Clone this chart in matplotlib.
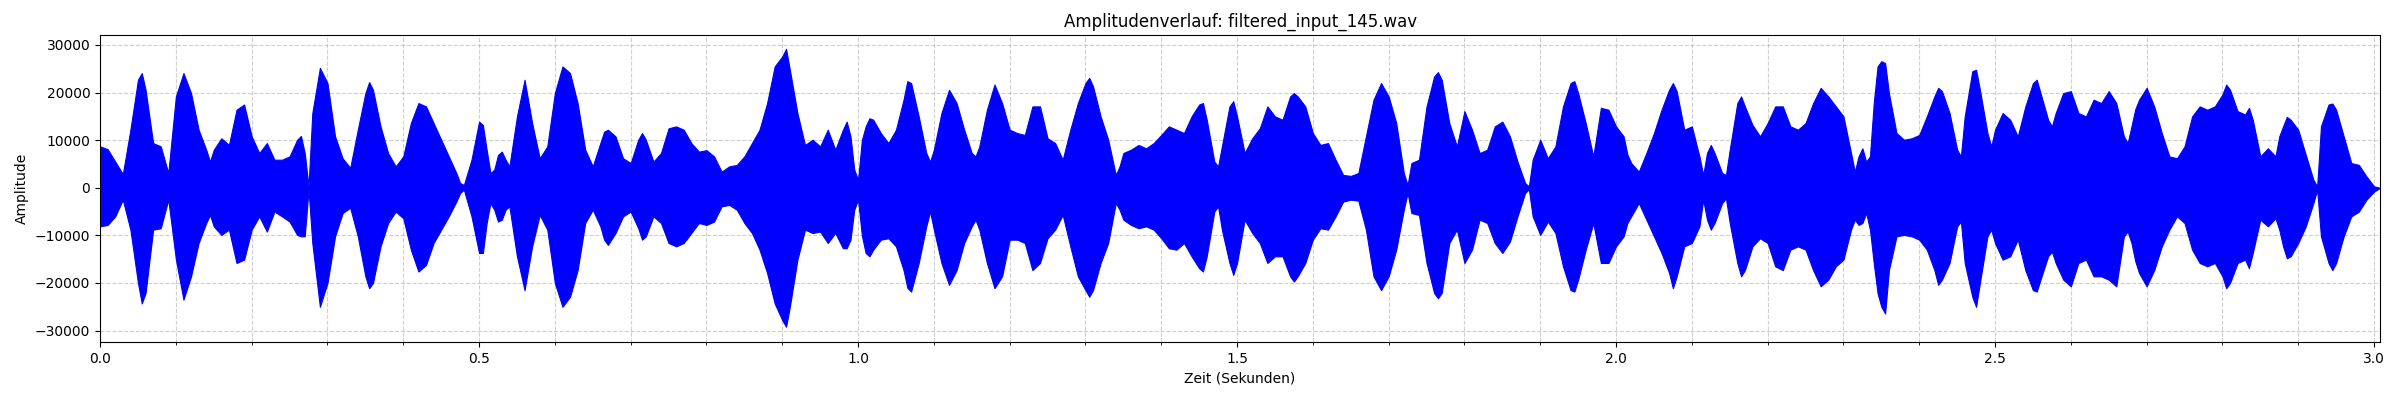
import matplotlib
matplotlib.use('Agg')
import matplotlib.pyplot as plt
from matplotlib.ticker import MultipleLocator

# Hüllkurve der Wellenform (Sekunden / Amplitude)
zeit = [
    0.000, 0.010, 0.020, 0.030, 0.040, 0.050, 0.055, 0.060, 0.070, 0.080,
    0.090, 0.100, 0.110, 0.120, 0.130, 0.140, 0.145, 0.150, 0.160, 0.170,
    0.180, 0.190, 0.200, 0.210, 0.220, 0.230, 0.240, 0.250, 0.260, 0.265,
    0.270, 0.275, 0.280, 0.290, 0.300, 0.310, 0.320, 0.330, 0.340, 0.350,
    0.355, 0.360, 0.370, 0.380, 0.390, 0.400, 0.410, 0.420, 0.430, 0.440,
    0.450, 0.460, 0.470, 0.475, 0.480, 0.490, 0.500, 0.505, 0.510, 0.515,
    0.520, 0.525, 0.530, 0.535, 0.540, 0.550, 0.560, 0.570, 0.580, 0.590,
    0.600, 0.610, 0.620, 0.630, 0.640, 0.650, 0.660, 0.665, 0.670, 0.680,
    0.690, 0.700, 0.710, 0.715, 0.720, 0.730, 0.740, 0.750, 0.760, 0.770,
    0.780, 0.790, 0.800, 0.810, 0.820, 0.830, 0.840, 0.850, 0.860, 0.870,
    0.880, 0.890, 0.900, 0.905, 0.910, 0.920, 0.930, 0.940, 0.950, 0.960,
    0.970, 0.980, 0.985, 0.990, 0.995, 1.000, 1.005, 1.010, 1.015, 1.020,
    1.030, 1.040, 1.050, 1.060, 1.065, 1.070, 1.080, 1.090, 1.095, 1.100,
    1.110, 1.120, 1.130, 1.140, 1.150, 1.155, 1.160, 1.170, 1.180, 1.190,
    1.200, 1.210, 1.220, 1.230, 1.240, 1.250, 1.260, 1.270, 1.280, 1.290,
    1.300, 1.305, 1.310, 1.320, 1.330, 1.340, 1.345, 1.350, 1.360, 1.370,
    1.380, 1.390, 1.400, 1.410, 1.420, 1.430, 1.440, 1.450, 1.455, 1.460,
    1.470, 1.475, 1.480, 1.490, 1.495, 1.500, 1.510, 1.520, 1.530, 1.540,
    1.550, 1.560, 1.570, 1.575, 1.580, 1.590, 1.600, 1.610, 1.620, 1.630,
    1.640, 1.650, 1.660, 1.670, 1.680, 1.690, 1.700, 1.710, 1.720, 1.725,
    1.730, 1.740, 1.750, 1.760, 1.765, 1.770, 1.780, 1.790, 1.800, 1.810,
    1.820, 1.830, 1.840, 1.850, 1.860, 1.870, 1.880, 1.885, 1.890, 1.900,
    1.910, 1.920, 1.930, 1.940, 1.945, 1.950, 1.960, 1.970, 1.980, 1.990,
    2.000, 2.010, 2.015, 2.020, 2.030, 2.040, 2.050, 2.060, 2.070, 2.075,
    2.080, 2.090, 2.100, 2.110, 2.115, 2.120, 2.125, 2.130, 2.140, 2.145,
    2.150, 2.160, 2.165, 2.170, 2.180, 2.190, 2.200, 2.210, 2.220, 2.230,
    2.240, 2.250, 2.260, 2.270, 2.280, 2.290, 2.300, 2.310, 2.315, 2.320,
    2.325, 2.330, 2.335, 2.340, 2.345, 2.350, 2.355, 2.360, 2.370, 2.380,
    2.390, 2.400, 2.410, 2.420, 2.425, 2.430, 2.440, 2.450, 2.455, 2.460,
    2.470, 2.475, 2.480, 2.490, 2.495, 2.500, 2.510, 2.520, 2.530, 2.540,
    2.550, 2.555, 2.560, 2.570, 2.575, 2.580, 2.590, 2.600, 2.610, 2.620,
    2.630, 2.640, 2.650, 2.660, 2.670, 2.675, 2.680, 2.685, 2.690, 2.700,
    2.710, 2.720, 2.730, 2.740, 2.750, 2.760, 2.770, 2.780, 2.790, 2.800,
    2.805, 2.810, 2.820, 2.830, 2.835, 2.840, 2.850, 2.860, 2.870, 2.875,
    2.880, 2.885, 2.890, 2.900, 2.910, 2.920, 2.925, 2.930, 2.940, 2.945,
    2.950, 2.960, 2.970, 2.980, 2.990, 3.000, 3.008,
]

env_oben = [
    8700, 8100, 5500, 2900, 12200, 22700, 24100, 20600, 9400, 8700,
    3100, 19200, 24100, 19900, 12200, 8000, 5500, 8000, 10400, 9000,
    16400, 17500, 10800, 7300, 9400, 5900, 5900, 6600, 10100, 10900,
    7300, 300, 15700, 25200, 22000, 10800, 6200, 4200, 12200, 19900,
    22200, 20600, 12900, 7300, 4500, 6600, 13600, 17800, 17100, 13600,
    10100, 6600, 3100, 1000, 600, 5900, 13900, 13200, 8000, 3100,
    3800, 6900, 7600, 5900, 4500, 15000, 22700, 13600, 6200, 8700,
    19900, 25500, 24100, 17800, 8000, 4500, 9400, 11800, 12200, 10800,
    6200, 5200, 10100, 11500, 10100, 5500, 7300, 12500, 12900, 12200,
    9400, 7600, 7900, 6600, 3400, 4500, 4800, 6600, 9400, 12200,
    17800, 25500, 27600, 29200, 24800, 15700, 9000, 10100, 8700, 12200,
    8000, 12200, 13900, 10800, 3800, 1700, 10000, 12900, 14600, 14300,
    11500, 9400, 12200, 18500, 22400, 22000, 15000, 7300, 5500, 8000,
    15700, 20600, 17800, 12200, 7300, 6600, 8700, 16400, 21700, 17800,
    12200, 11500, 11100, 17100, 17100, 10400, 9400, 5900, 12200, 17800,
    22000, 23100, 21300, 15000, 10100, 2700, 4500, 7300, 8000, 9000,
    8300, 9400, 11100, 12900, 12200, 11500, 15000, 17500, 17800, 14300,
    5500, 4500, 8700, 17100, 18200, 15000, 7300, 10400, 12500, 17100,
    15000, 14300, 19200, 19900, 19200, 17100, 11500, 9000, 9400, 5900,
    2700, 2500, 3100, 10800, 18500, 22000, 19200, 13600, 3100, 600,
    5200, 5900, 17100, 23400, 24300, 22700, 13600, 8700, 16100, 12200,
    7300, 8000, 12900, 13900, 10800, 5500, 1000, 300, 5900, 10100,
    6200, 8700, 17100, 22000, 22400, 19900, 13600, 6600, 16800, 16400,
    12900, 10800, 7000, 5200, 3400, 7300, 11500, 16400, 20600, 22000,
    20300, 12200, 12900, 6600, 2700, 7300, 9000, 7300, 3100, 2700,
    8000, 17800, 19200, 17100, 13200, 10800, 13600, 17100, 17100, 12900,
    12200, 13600, 17800, 21000, 19200, 17100, 15000, 7300, 3400, 6600,
    8300, 5500, 6600, 17800, 25500, 26600, 26200, 19900, 11500, 10100,
    10400, 11100, 15000, 19200, 21000, 20300, 15700, 8000, 6600, 15000,
    24500, 24800, 20600, 11500, 8700, 12200, 15700, 14300, 10800, 17100,
    22000, 22700, 19900, 14300, 12900, 15700, 19900, 20300, 15700, 15000,
    18500, 17800, 20300, 17800, 10800, 9400, 12900, 16500, 18500, 21000,
    17100, 11500, 6600, 6200, 8700, 15000, 17100, 16400, 17100, 19600,
    21700, 20600, 16100, 15400, 16800, 14300, 6600, 8300, 6600, 10800,
    12900, 14900, 14300, 12200, 6900, 1700, 300, 12900, 17500, 17700,
    16400, 10800, 5200, 4800, 2400, 300, 0,
]

env_unten = [
    -8100, -7800, -6000, -2500, -8800, -20000, -24300, -22100, -8800, -8500,
    -2500, -15000, -23500, -18600, -11600, -7400, -5700, -8100, -9900, -8800,
    -15800, -15100, -8800, -6000, -9200, -5000, -6000, -7100, -9900, -10200,
    -10200, -400, -11600, -25000, -20000, -10200, -5300, -4200, -10200, -18600,
    -21100, -20000, -12300, -7400, -5000, -6400, -13000, -17600, -16200, -11600,
    -8800, -6000, -2900, -1100, -400, -6000, -13700, -13700, -7400, -3200,
    -4600, -7100, -6700, -4600, -3900, -14400, -21500, -12300, -5700, -8800,
    -20000, -25000, -22900, -17300, -7400, -4600, -8100, -10900, -12000, -9500,
    -6000, -5000, -8500, -10900, -10200, -6000, -7400, -11600, -12300, -11600,
    -9500, -7400, -7800, -7100, -3900, -3600, -4600, -7400, -9500, -13000,
    -17900, -24300, -27800, -29200, -25000, -15100, -8800, -9500, -9200, -11600,
    -9500, -12700, -12700, -10900, -4600, -2500, -10000, -13700, -14400, -13000,
    -10900, -10600, -12300, -17300, -21000, -21800, -15800, -8100, -5000, -8800,
    -15800, -20400, -17300, -11600, -8100, -6700, -8800, -15800, -21100, -18600,
    -10900, -10900, -11600, -17300, -15800, -10600, -8800, -5700, -12300, -18600,
    -21500, -22900, -21500, -15800, -11600, -3200, -4600, -6700, -7800, -8500,
    -8100, -8800, -10600, -12700, -13000, -11600, -14400, -16900, -17600, -14400,
    -5000, -3900, -8800, -15800, -18300, -15800, -6700, -9500, -11600, -15800,
    -14400, -14400, -18600, -19700, -18600, -15800, -10900, -8500, -8800, -6000,
    -2900, -2500, -2700, -8800, -18600, -21500, -18600, -13000, -4600, -1100,
    -5300, -5700, -15800, -22100, -23200, -22100, -11600, -8800, -15800, -13000,
    -6700, -7400, -11600, -13700, -11300, -6000, -1100, -300, -6000, -9900,
    -7100, -9500, -16500, -21500, -21800, -19300, -13000, -7400, -15800, -15800,
    -12300, -10200, -7400, -6000, -3200, -6700, -10200, -13700, -17900, -21100,
    -18600, -12300, -11600, -8100, -2500, -6700, -8800, -7400, -3200, -2200,
    -7400, -15800, -18600, -17300, -12300, -10600, -11600, -16500, -17300, -13000,
    -12300, -13000, -17300, -20700, -19300, -16500, -15100, -8800, -6700, -7800,
    -7400, -5300, -8800, -15800, -22100, -25000, -26400, -17300, -10200, -9900,
    -10200, -10900, -13000, -17300, -20400, -19300, -15800, -8100, -7100, -15800,
    -22900, -25000, -20000, -10200, -8800, -11600, -15100, -14400, -10900, -17300,
    -21500, -21800, -19300, -14400, -13400, -15800, -19300, -20700, -15800, -15100,
    -18600, -18600, -19300, -20700, -10200, -9200, -11600, -15400, -17900, -20700,
    -17300, -12300, -8800, -6000, -7400, -13000, -15800, -16500, -15800, -18600,
    -21100, -20000, -15800, -15100, -16900, -13700, -6700, -8100, -6400, -8800,
    -12300, -14800, -14400, -11600, -8100, -3200, -400, -10200, -15800, -17300,
    -15800, -10200, -6000, -5000, -2500, -800, 0,
]

dauer = 3.008


def plot_wellenform():
    fig, ax = plt.subplots(figsize=(24, 4), dpi=100)

    ax.fill_between(zeit, env_unten, env_oben, color='blue',
                    edgecolor='blue', linewidth=0.8)

    ax.set_xlim(0, dauer)
    ax.set_ylim(-32400, 32100)
    ax.xaxis.set_major_locator(MultipleLocator(0.5))
    ax.xaxis.set_minor_locator(MultipleLocator(0.1))

    ax.grid(True, which='both', linestyle='--', alpha=0.6)
    ax.set_axisbelow(True)

    ax.set_title("Amplitudenverlauf: filtered_input_145.wav")
    ax.set_xlabel("Zeit (Sekunden)")
    ax.set_ylabel("Amplitude")

    fig.subplots_adjust(left=0.0417, right=0.9917, top=0.9125, bottom=0.145)
    fig.savefig("out.png")
    plt.close(fig)


plot_wellenform()
